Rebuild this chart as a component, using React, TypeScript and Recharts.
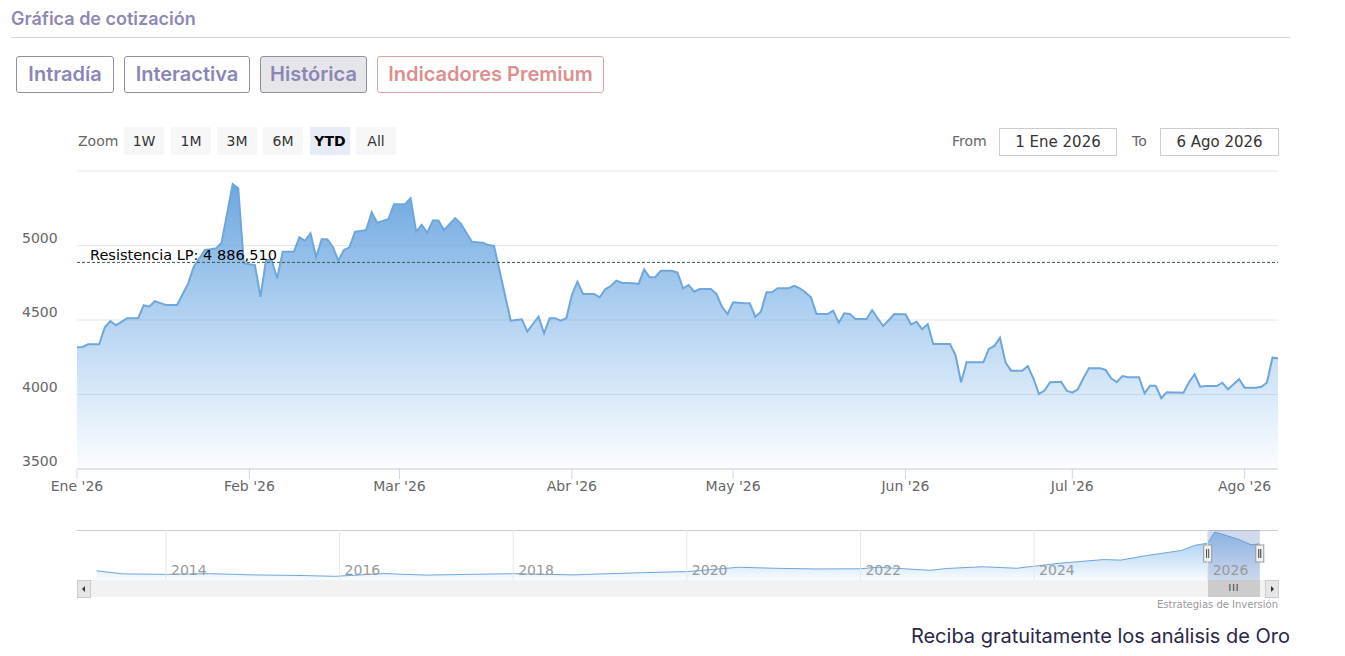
import React from 'react';
import {
  AreaChart,
  Area,
  XAxis,
  YAxis,
  CartesianGrid,
  ReferenceLine,
  ReferenceArea
} from 'recharts';

// Daily closes, one array per month
const eneVals = [4317, 4319, 4337, 4337, 4337, 4451, 4493, 4465, 4488, 4512, 4512, 4512, 4599, 4589, 4626, 4613, 4601, 4601, 4601, 4673, 4746, 4858, 4913, 4970, 4975, 4981, 5019, 5215, 5413, 5384, 4881];
const febVals = [4874, 4869, 4656, 4903, 4903, 4780, 4958, 4958, 4958, 5055, 5032, 5082, 4921, 5042, 5042, 4992, 4898, 4970, 4988, 5093, 5098, 5104, 5223, 5153, 5165, 5176, 5277];
const marVals = [5277, 5277, 5317, 5093, 5138, 5086, 5167, 5167, 5104, 5143, 5183, 5149, 5087, 5026, 5022, 5019, 5003, 4997, 4830, 4663, 4495, 4500, 4505, 4422, 4473, 4522, 4411, 4512, 4512, 4495, 4512];
const abrVals = [4668, 4757, 4675, 4675, 4675, 4652, 4706, 4728, 4764, 4750, 4748, 4746, 4742, 4840, 4787, 4787, 4831, 4831, 4831, 4818, 4713, 4735, 4690, 4708, 4708, 4708, 4675, 4589, 4540];
const mayVals = [4619, 4616, 4612, 4612, 4522, 4556, 4686, 4686, 4713, 4713, 4713, 4730, 4713, 4686, 4652, 4540, 4540, 4540, 4563, 4482, 4545, 4540, 4507, 4507, 4507, 4567, 4512, 4460, 4500, 4540, 4539];
const junVals = [4538, 4471, 4489, 4438, 4473, 4339, 4339, 4339, 4339, 4265, 4082, 4216, 4216, 4216, 4216, 4306, 4326, 4381, 4214, 4160, 4160, 4160, 4191, 4109, 4004, 4026, 4082, 4084, 4086, 4026];
const julVals = [4012, 4035, 4109, 4176, 4176, 4176, 4165, 4109, 4082, 4124, 4116, 4116, 4116, 4008, 4059, 4059, 3975, 4015, 4014, 4013, 4012, 4082, 4136, 4052, 4057, 4057, 4057, 4079, 4035, 4069, 4104];
const agoVals = [4046, 4046, 4046, 4052, 4079, 4247, 4243];

const months = [eneVals, febVals, marVals, abrVals, mayVals, junVals, julVals, agoVals];
const monthLabels = ["Ene '26", "Feb '26", "Mar '26", "Abr '26", "May '26", "Jun '26", "Jul '26", "Ago '26"];
const yTicks = [3500, 4000, 4500, 5000, 5500];
const resistance = 4886.51;
const resistanceLabel = 'Resistencia LP: 4 886,510';

// navigator (long history)
const navYears = [2013.2, 2013.5, 2014.0, 2014.5, 2015.0, 2015.5, 2015.95, 2016.5, 2017.0, 2017.5, 2018.0, 2018.7, 2019.0, 2019.5, 2020.0, 2020.6, 2021.0, 2021.5, 2022.0, 2022.2, 2022.8, 2023.0, 2023.4, 2023.8, 2024.0, 2024.3, 2024.8, 2025.0, 2025.3, 2025.5, 2025.7, 2025.85, 2026.0, 2026.08, 2026.2, 2026.35, 2026.5, 2026.6];
const navPrices = [1600, 1300, 1250, 1320, 1200, 1150, 1060, 1330, 1180, 1250, 1320, 1200, 1290, 1420, 1520, 1950, 1850, 1780, 1800, 1950, 1650, 1830, 2000, 1850, 2050, 2350, 2700, 2650, 3100, 3350, 3600, 4100, 4300, 5400, 5100, 4700, 4150, 4240];
const navTicks = [2014, 2016, 2018, 2020, 2022, 2024, 2026];

const values = months.flat();
const data = values.map((v, i) => ({ i, v }));
const monthStarts = months.map((_, m) => months.slice(0, m).reduce((s, a) => s + a.length, 0));
const navData = navYears.map((y, k) => ({ y, p: navPrices[k] }));

const axisFont = '"DejaVu Sans", Verdana, sans-serif';
const uiFont = 'Inter, "Noto Sans", sans-serif';

const YTick = (props: any) => {
  const { y, payload } = props;
  if (payload.value === 5500) return <g />;
  return (
    <text x={22} y={y - 3} fill="#666" fontSize={14} fontFamily={axisFont} textAnchor="start">
      {payload.value}
    </text>
  );
};

const ResLabel = (props: any) => {
  const vb = props.viewBox || {};
  return (
    <text x={(vb.x ?? 77) + 13} y={(vb.y ?? 0) - 2} fill="#000" fontSize={14.5} fontFamily={axisFont}>
      {resistanceLabel}
    </text>
  );
};

const YearLabel = (props: any) => {
  const vb = props.viewBox || {};
  return (
    <text x={(vb.x ?? 0) + 5} y={(vb.y ?? 0) + (vb.height ?? 50) - 5} fill="#999" fontSize={14} fontFamily={axisFont}>
      {props.value}
    </text>
  );
};

const Mask = (props: any) => {
  const { x, y, width, height } = props;
  const handle = (hx: number) => (
    <g>
      <rect x={hx - 4} y={y + 15} width={8} height={17} fill="#f2f2f2" stroke="#999" strokeWidth={1} />
      <line x1={hx - 1} x2={hx - 1} y1={y + 19} y2={y + 28} stroke="#333" strokeWidth={1} />
      <line x1={hx + 1} x2={hx + 1} y1={y + 19} y2={y + 28} stroke="#333" strokeWidth={1} />
    </g>
  );
  return (
    <g>
      <rect x={x} y={y} width={width} height={height} fill="rgba(102,133,194,0.3)" />
      {handle(x)}
      {handle(x + width)}
    </g>
  );
};

const tabStyle = (left: number, width: number, color: string, border: string, bg: string): React.CSSProperties => ({
  position: 'absolute',
  left,
  top: 56,
  width,
  height: 37,
  boxSizing: 'border-box',
  border: `1px solid ${border}`,
  borderRadius: 3,
  background: bg,
  color,
  fontFamily: uiFont,
  fontWeight: 600,
  fontSize: 20,
  lineHeight: '35px',
  textAlign: 'center',
  whiteSpace: 'nowrap'
});

const zoomBtn = (left: number, label: string, active = false) => (
  <div
    key={label}
    style={{
      position: 'absolute',
      left,
      top: 127,
      width: 40,
      height: 28,
      background: active ? '#e6ebf5' : '#f7f7f7',
      color: active ? '#000' : '#333',
      fontWeight: active ? 'bold' : 'normal',
      fontFamily: axisFont,
      fontSize: 14,
      lineHeight: '29px',
      textAlign: 'center'
    }}
  >
    {label}
  </div>
);

const dateBox = (left: number, width: number, text: string) => (
  <div
    style={{
      position: 'absolute',
      left,
      top: 128,
      width,
      height: 28,
      boxSizing: 'border-box',
      border: '1px solid #ccc',
      color: '#333',
      fontFamily: axisFont,
      fontSize: 15,
      lineHeight: '26px',
      textAlign: 'center'
    }}
  >
    {text}
  </div>
);

export default function App() {
  return (
    <div style={{ position: 'absolute', left: 0, top: 0, width: 1345, height: 656, background: '#fff', overflow: 'hidden' }}>
      <div style={{ position: 'absolute', left: 11, top: 8, fontFamily: uiFont, fontWeight: 600, fontSize: 18, color: '#8e88b5' }}>
        Gráfica de cotización
      </div>
      <div style={{ position: 'absolute', left: 11, top: 37, width: 1279, height: 1, background: '#d4d4d4' }} />

      <div style={tabStyle(16, 98, '#8b86b6', '#8f8f9f', '#fff')}>Intradía</div>
      <div style={tabStyle(124, 126, '#8b86b6', '#8f8f9f', '#fff')}>Interactiva</div>
      <div style={tabStyle(260, 107, '#8b86b6', '#8f8f9f', '#e6e6ea')}>Histórica</div>
      <div style={tabStyle(377, 227, '#dc8f8f', '#e0a3a3', '#fff')}>Indicadores Premium</div>

      <div style={{ position: 'absolute', left: 78, top: 133, fontFamily: axisFont, fontSize: 14, color: '#666' }}>Zoom</div>
      {zoomBtn(124, '1W')}
      {zoomBtn(171, '1M')}
      {zoomBtn(217, '3M')}
      {zoomBtn(263, '6M')}
      {zoomBtn(310, 'YTD', true)}
      {zoomBtn(356, 'All')}

      <div style={{ position: 'absolute', left: 952, top: 133, fontFamily: axisFont, fontSize: 14, color: '#666' }}>From</div>
      {dateBox(999, 118, '1 Ene 2026')}
      <div style={{ position: 'absolute', left: 1132, top: 133, fontFamily: axisFont, fontSize: 14, color: '#666' }}>To</div>
      {dateBox(1160, 119, '6 Ago 2026')}

      <div style={{ position: 'absolute', left: 0, top: 160 }}>
        <AreaChart width={1300} height={340} data={data} margin={{ top: 11, right: 22, bottom: 0, left: 0 }}>
          <defs>
            <linearGradient id="mainFill" x1="0" y1="0" x2="0" y2="1">
              <stop offset="0%" stopColor="#6ca6e0" stopOpacity={1} />
              <stop offset="100%" stopColor="#7cb5ec" stopOpacity={0.03} />
            </linearGradient>
          </defs>
          <CartesianGrid vertical={false} stroke="#e6e6e6" />
          <XAxis
            dataKey="i"
            type="number"
            domain={[0, values.length - 1]}
            ticks={monthStarts}
            tickFormatter={(t: number) => monthLabels[monthStarts.indexOf(t)]}
            tickSize={10}
            tickLine={{ stroke: '#ccd6eb' }}
            axisLine={{ stroke: '#ccd6eb' }}
            tick={{ fill: '#666', fontSize: 14, fontFamily: axisFont }}
            height={31}
            interval={0}
          />
          <YAxis
            type="number"
            domain={[3500, 5500]}
            ticks={yTicks}
            width={77}
            axisLine={false}
            tickLine={false}
            tick={<YTick />}
          />
          <Area
            type="linear"
            dataKey="v"
            stroke="#6fa6dc"
            strokeWidth={2}
            fill="url(#mainFill)"
            fillOpacity={1}
            dot={false}
            activeDot={false}
            isAnimationActive={false}
          />
          <ReferenceLine y={resistance} stroke="#2f5f46" strokeDasharray="3 2" strokeWidth={1} label={<ResLabel />} />
        </AreaChart>
      </div>

      <div style={{ position: 'absolute', left: 77, top: 530, width: 1201, height: 1, background: '#cccccc' }} />
      <div style={{ position: 'absolute', left: 0, top: 530 }}>
        <AreaChart width={1300} height={50} data={navData} margin={{ top: 0, right: 22, bottom: 0, left: 77 }}>
          <defs>
            <linearGradient id="navFill" x1="0" y1="0" x2="0" y2="1">
              <stop offset="0%" stopColor="#7cb5ec" stopOpacity={0.75} />
              <stop offset="100%" stopColor="#7cb5ec" stopOpacity={0.05} />
            </linearGradient>
          </defs>
          <XAxis dataKey="y" type="number" domain={[2012.975, 2026.81]} hide />
          <YAxis type="number" domain={[700, 5600]} hide />
          {navTicks.map((t) => (
            <ReferenceLine key={t} x={t} stroke="#e6e6e6" label={<YearLabel value={t} />} />
          ))}
          <Area
            type="linear"
            dataKey="p"
            stroke="#6fa6dc"
            strokeWidth={1}
            fill="url(#navFill)"
            fillOpacity={1}
            dot={false}
            activeDot={false}
            isAnimationActive={false}
          />
          <ReferenceArea x1={2026.0} x2={2026.6} y1={700} y2={5600} shape={<Mask />} />
        </AreaChart>
      </div>

      <div style={{ position: 'absolute', left: 77, top: 580, width: 1201, height: 17, background: '#f2f2f2' }} />
      <div style={{ position: 'absolute', left: 77, top: 580, width: 12, height: 16, background: '#e6e6e6', border: '1px solid #ccc' }}>
        <div style={{ position: 'absolute', left: 4, top: 5, width: 0, height: 0, borderTop: '3px solid transparent', borderBottom: '3px solid transparent', borderRight: '3px solid #333' }} />
      </div>
      <div style={{ position: 'absolute', left: 1265, top: 580, width: 12, height: 16, background: '#e6e6e6', border: '1px solid #ccc' }}>
        <div style={{ position: 'absolute', left: 5, top: 5, width: 0, height: 0, borderTop: '3px solid transparent', borderBottom: '3px solid transparent', borderLeft: '3px solid #333' }} />
      </div>
      <div style={{ position: 'absolute', left: 1208, top: 580, width: 52, height: 17, background: '#cccccc', color: '#333', fontFamily: axisFont, fontSize: 9, lineHeight: '17px', textAlign: 'center', letterSpacing: 1 }}>
        III
      </div>

      <div style={{ position: 'absolute', right: 67, top: 599, fontFamily: axisFont, fontSize: 10, color: '#999' }}>
        Estrategias de Inversión
      </div>
      <div style={{ position: 'absolute', right: 55, top: 624, fontFamily: uiFont, fontSize: 20, color: '#29274b' }}>
        Reciba gratuitamente los análisis de Oro
      </div>
    </div>
  );
}
